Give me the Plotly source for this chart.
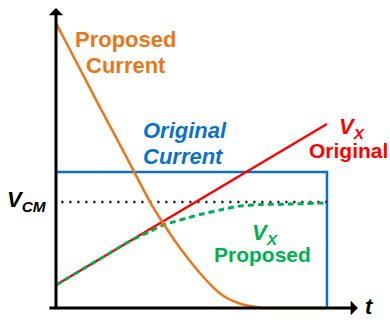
import plotly.graph_objects as go

# --- data -------------------------------------------------------------
# time axis (arbitrary units, the step ends at t = 10)
t_line = [0, 10]
vx_original = [0.217, 1.736]

t_proposed = [0, 1.62, 2.73, 3.47, 3.95, 4.39, 4.83, 5.31, 6.05, 6.68, 7.53, 8.63, 10]
vx_proposed = [0.217, 0.462, 0.632, 0.722, 0.783, 0.816, 0.849, 0.882, 0.925,
               0.958, 0.976, 0.981, 0.991]

t_current = [0, 1.62, 2.66, 3.47, 3.95, 4.39, 4.83, 5.31, 5.79, 6.24, 6.72,
             7.16, 7.64, 8.5, 10]
current_proposed = [2.689, 1.896, 1.396, 1.000, 0.802, 0.632, 0.481, 0.330,
                    0.198, 0.104, 0.047, 0.019, 0, 0, 0]

t_step = [0, 10, 10]
current_original = [1.283, 1.283, 0]

t_vcm = [0.2, 10]
vcm = [1.0, 1.0]

ORANGE = "#E9771A"
BLUE = "#0A72C6"
RED = "#FF0000"
GREEN = "#00B050"
FONT = "Liberation Sans, Arial, sans-serif"

fig = go.Figure()

fig.add_trace(go.Scatter(x=t_step, y=current_original, mode="lines",
                         line=dict(color=BLUE, width=2.5)))
fig.add_trace(go.Scatter(x=t_vcm, y=vcm, mode="lines",
                         line=dict(color="black", width=2.5, dash="2px,6px")))
fig.add_trace(go.Scatter(x=t_line, y=vx_original, mode="lines",
                         line=dict(color=RED, width=2.5)))
fig.add_trace(go.Scatter(x=t_proposed, y=vx_proposed, mode="lines",
                         line=dict(color=GREEN, width=3, dash="6px,4px",
                                   shape="spline", smoothing=0.6)))
fig.add_trace(go.Scatter(x=t_current, y=current_proposed, mode="lines",
                         line=dict(color=ORANGE, width=2.5,
                                   shape="spline", smoothing=0.5)))

# axes with arrow heads
arrow = dict(xref="x", yref="y", axref="x", ayref="y", showarrow=True,
             arrowhead=1, arrowsize=0.8, arrowwidth=3, arrowcolor="black", text="")
fig.add_annotation(x=0, y=2.83, ax=0, ay=-0.025, **arrow)
fig.add_annotation(x=11.14, y=0, ax=-0.3, ay=0, **arrow)


def label(text, x, y, color, size=22, xanchor="center"):
    fig.add_annotation(x=x, y=y, xref="x", yref="y", text=text, showarrow=False,
                       xanchor=xanchor, yanchor="middle",
                       font=dict(family=FONT, size=size, color=color))


label("<b>Proposed</b>", 2.58, 2.533, ORANGE)
label("<b>Current</b>", 2.60, 2.288, ORANGE)
label("<b><i>Original</i></b>", 4.76, 1.675, BLUE)
label("<b><i>Current</i></b>", 4.72, 1.429, BLUE)
label("<b><i>V<sub>X</sub></i></b>", 10.37, 1.70, RED, xanchor="left")
label("<b>Original</b>", 10.81, 1.486, RED, size=21)
label("<b><i>V<sub>CM</sub></i></b>", -0.26, 1.01, "black", xanchor="right")
label("<b><i>V<sub>X</sub></i></b>", 7.16, 0.70, GREEN, xanchor="left")
label("<b>Proposed</b>", 7.62, 0.505, GREEN, size=21)
label("<b><i>t</i></b>", 11.33, 0.01, "black", xanchor="left")

fig.update_layout(
    width=390, height=320,
    margin=dict(l=0, r=0, t=0, b=0),
    paper_bgcolor="white", plot_bgcolor="white",
    showlegend=False,
    xaxis=dict(range=[-2.066, 12.325], visible=False, fixedrange=True),
    yaxis=dict(range=[-0.113, 2.906], visible=False, fixedrange=True),
)

fig.write_html("out.html")
